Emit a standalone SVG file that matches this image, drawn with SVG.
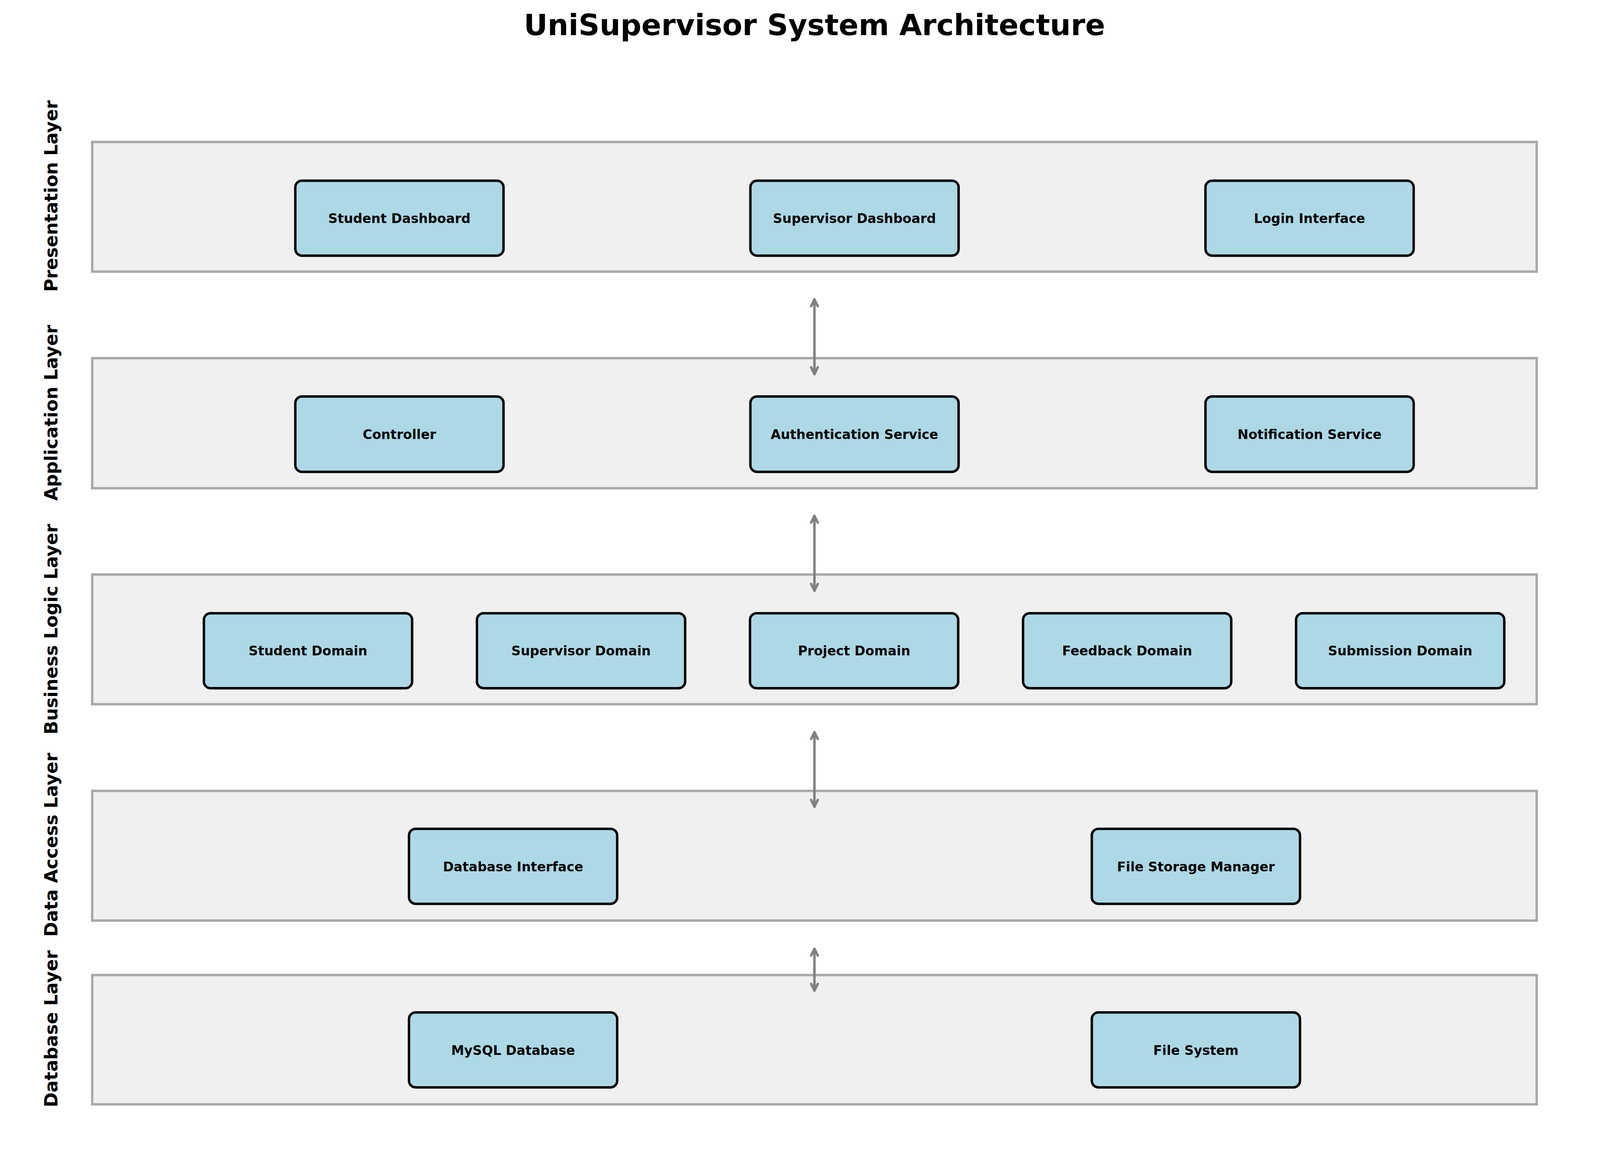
<svg xmlns="http://www.w3.org/2000/svg" width="4170" height="2970" viewBox="0 0 4170 2970">
<defs>
<style>
.layer{fill:#f0f0f0;stroke:#a9a9a9;stroke-width:6.25}
.node rect{fill:#add8e6;stroke:#000;stroke-width:6.25}
.node text{font-family:"DejaVu Sans","Liberation Sans",sans-serif;font-weight:bold;font-size:33.3px;text-anchor:middle;fill:#000}
.lbl{font-family:"DejaVu Sans","Liberation Sans",sans-serif;font-weight:bold;font-size:45.8px;text-anchor:middle;fill:#000}
.title{font-family:"DejaVu Sans","Liberation Sans",sans-serif;font-weight:bold;font-size:75px;text-anchor:middle;fill:#000}
.conn path{fill:none;stroke:#808080;stroke-width:6.25;stroke-linecap:round;stroke-linejoin:round}
</style>
</defs>
<rect width="4170" height="2970" fill="#fff"/>
<text class="title" x="2085" y="90">UniSupervisor System Architecture</text>

<g id="layer-presentation">
<rect class="layer" x="236" y="363.5" width="3698" height="332"/>
<text class="lbl" transform="translate(147,502) rotate(-90)">Presentation Layer</text>
</g>
<g id="layer-application">
<rect class="layer" x="236" y="917" width="3698" height="333"/>
<text class="lbl" transform="translate(147,1057) rotate(-90)">Application Layer</text>
</g>
<g id="layer-business">
<rect class="layer" x="236" y="1471" width="3698" height="332"/>
<text class="lbl" transform="translate(147,1611) rotate(-90)">Business Logic Layer</text>
</g>
<g id="layer-dataaccess">
<rect class="layer" x="236" y="2025" width="3698" height="332"/>
<text class="lbl" transform="translate(147,2163) rotate(-90)">Data Access Layer</text>
</g>
<g id="layer-database">
<rect class="layer" x="236" y="2496.5" width="3698" height="331"/>
<text class="lbl" transform="translate(147,2634) rotate(-90)">Database Layer</text>
</g>

<g id="connectors" class="conn">
<path d="M2085,766.5 V958 M2076.5,784 L2085,766.5 L2093.5,784 M2076.5,940.5 L2085,958 L2093.5,940.5"/>
<path d="M2085,1320.5 V1512.5 M2076.5,1338 L2085,1320.5 L2093.5,1338 M2076.5,1495 L2085,1512.5 L2093.5,1495"/>
<path d="M2085,1874.5 V2065.5 M2076.5,1892 L2085,1874.5 L2093.5,1892 M2076.5,2048 L2085,2065.5 L2093.5,2048"/>
<path d="M2085,2429 V2536.5 M2076.5,2446.5 L2085,2429 L2093.5,2446.5 M2076.5,2519 L2085,2536.5 L2093.5,2519"/>
</g>

<g id="node-student-dashboard" class="node"><rect x="756" y="462.5" width="533" height="192" rx="17"/><text x="1022.5" y="571">Student Dashboard</text></g>
<g id="node-supervisor-dashboard" class="node"><rect x="1921" y="462.5" width="533" height="192" rx="17"/><text x="2187.5" y="571">Supervisor Dashboard</text></g>
<g id="node-login-interface" class="node"><rect x="3086" y="462.5" width="533" height="192" rx="17"/><text x="3352.5" y="571">Login Interface</text></g>

<g id="node-controller" class="node"><rect x="756" y="1015" width="533" height="193" rx="17"/><text x="1022.5" y="1124">Controller</text></g>
<g id="node-authentication-service" class="node"><rect x="1921" y="1015" width="533" height="193" rx="17"/><text x="2187.5" y="1124">Authentication Service</text></g>
<g id="node-notification-service" class="node"><rect x="3086" y="1015" width="533" height="193" rx="17"/><text x="3352.5" y="1124">Notification Service</text></g>

<g id="node-student-domain" class="node"><rect x="522" y="1570" width="533" height="192" rx="17"/><text x="788.5" y="1678">Student Domain</text></g>
<g id="node-supervisor-domain" class="node"><rect x="1221" y="1570" width="533" height="192" rx="17"/><text x="1487.5" y="1678">Supervisor Domain</text></g>
<g id="node-project-domain" class="node"><rect x="1920" y="1570" width="533" height="192" rx="17"/><text x="2186.5" y="1678">Project Domain</text></g>
<g id="node-feedback-domain" class="node"><rect x="2619" y="1570" width="533" height="192" rx="17"/><text x="2885.5" y="1678">Feedback Domain</text></g>
<g id="node-submission-domain" class="node"><rect x="3318" y="1570" width="533" height="192" rx="17"/><text x="3584.5" y="1678">Submission Domain</text></g>

<g id="node-database-interface" class="node"><rect x="1047" y="2122" width="533" height="192" rx="17"/><text x="1313.5" y="2230.5">Database Interface</text></g>
<g id="node-file-storage-manager" class="node"><rect x="2795" y="2122" width="533" height="192" rx="17"/><text x="3061.5" y="2230.5">File Storage Manager</text></g>

<g id="node-mysql-database" class="node"><rect x="1047" y="2592" width="533" height="192" rx="17"/><text x="1313.5" y="2700.5">MySQL Database</text></g>
<g id="node-file-system" class="node"><rect x="2795" y="2592" width="533" height="192" rx="17"/><text x="3061.5" y="2700.5">File System</text></g>
</svg>
